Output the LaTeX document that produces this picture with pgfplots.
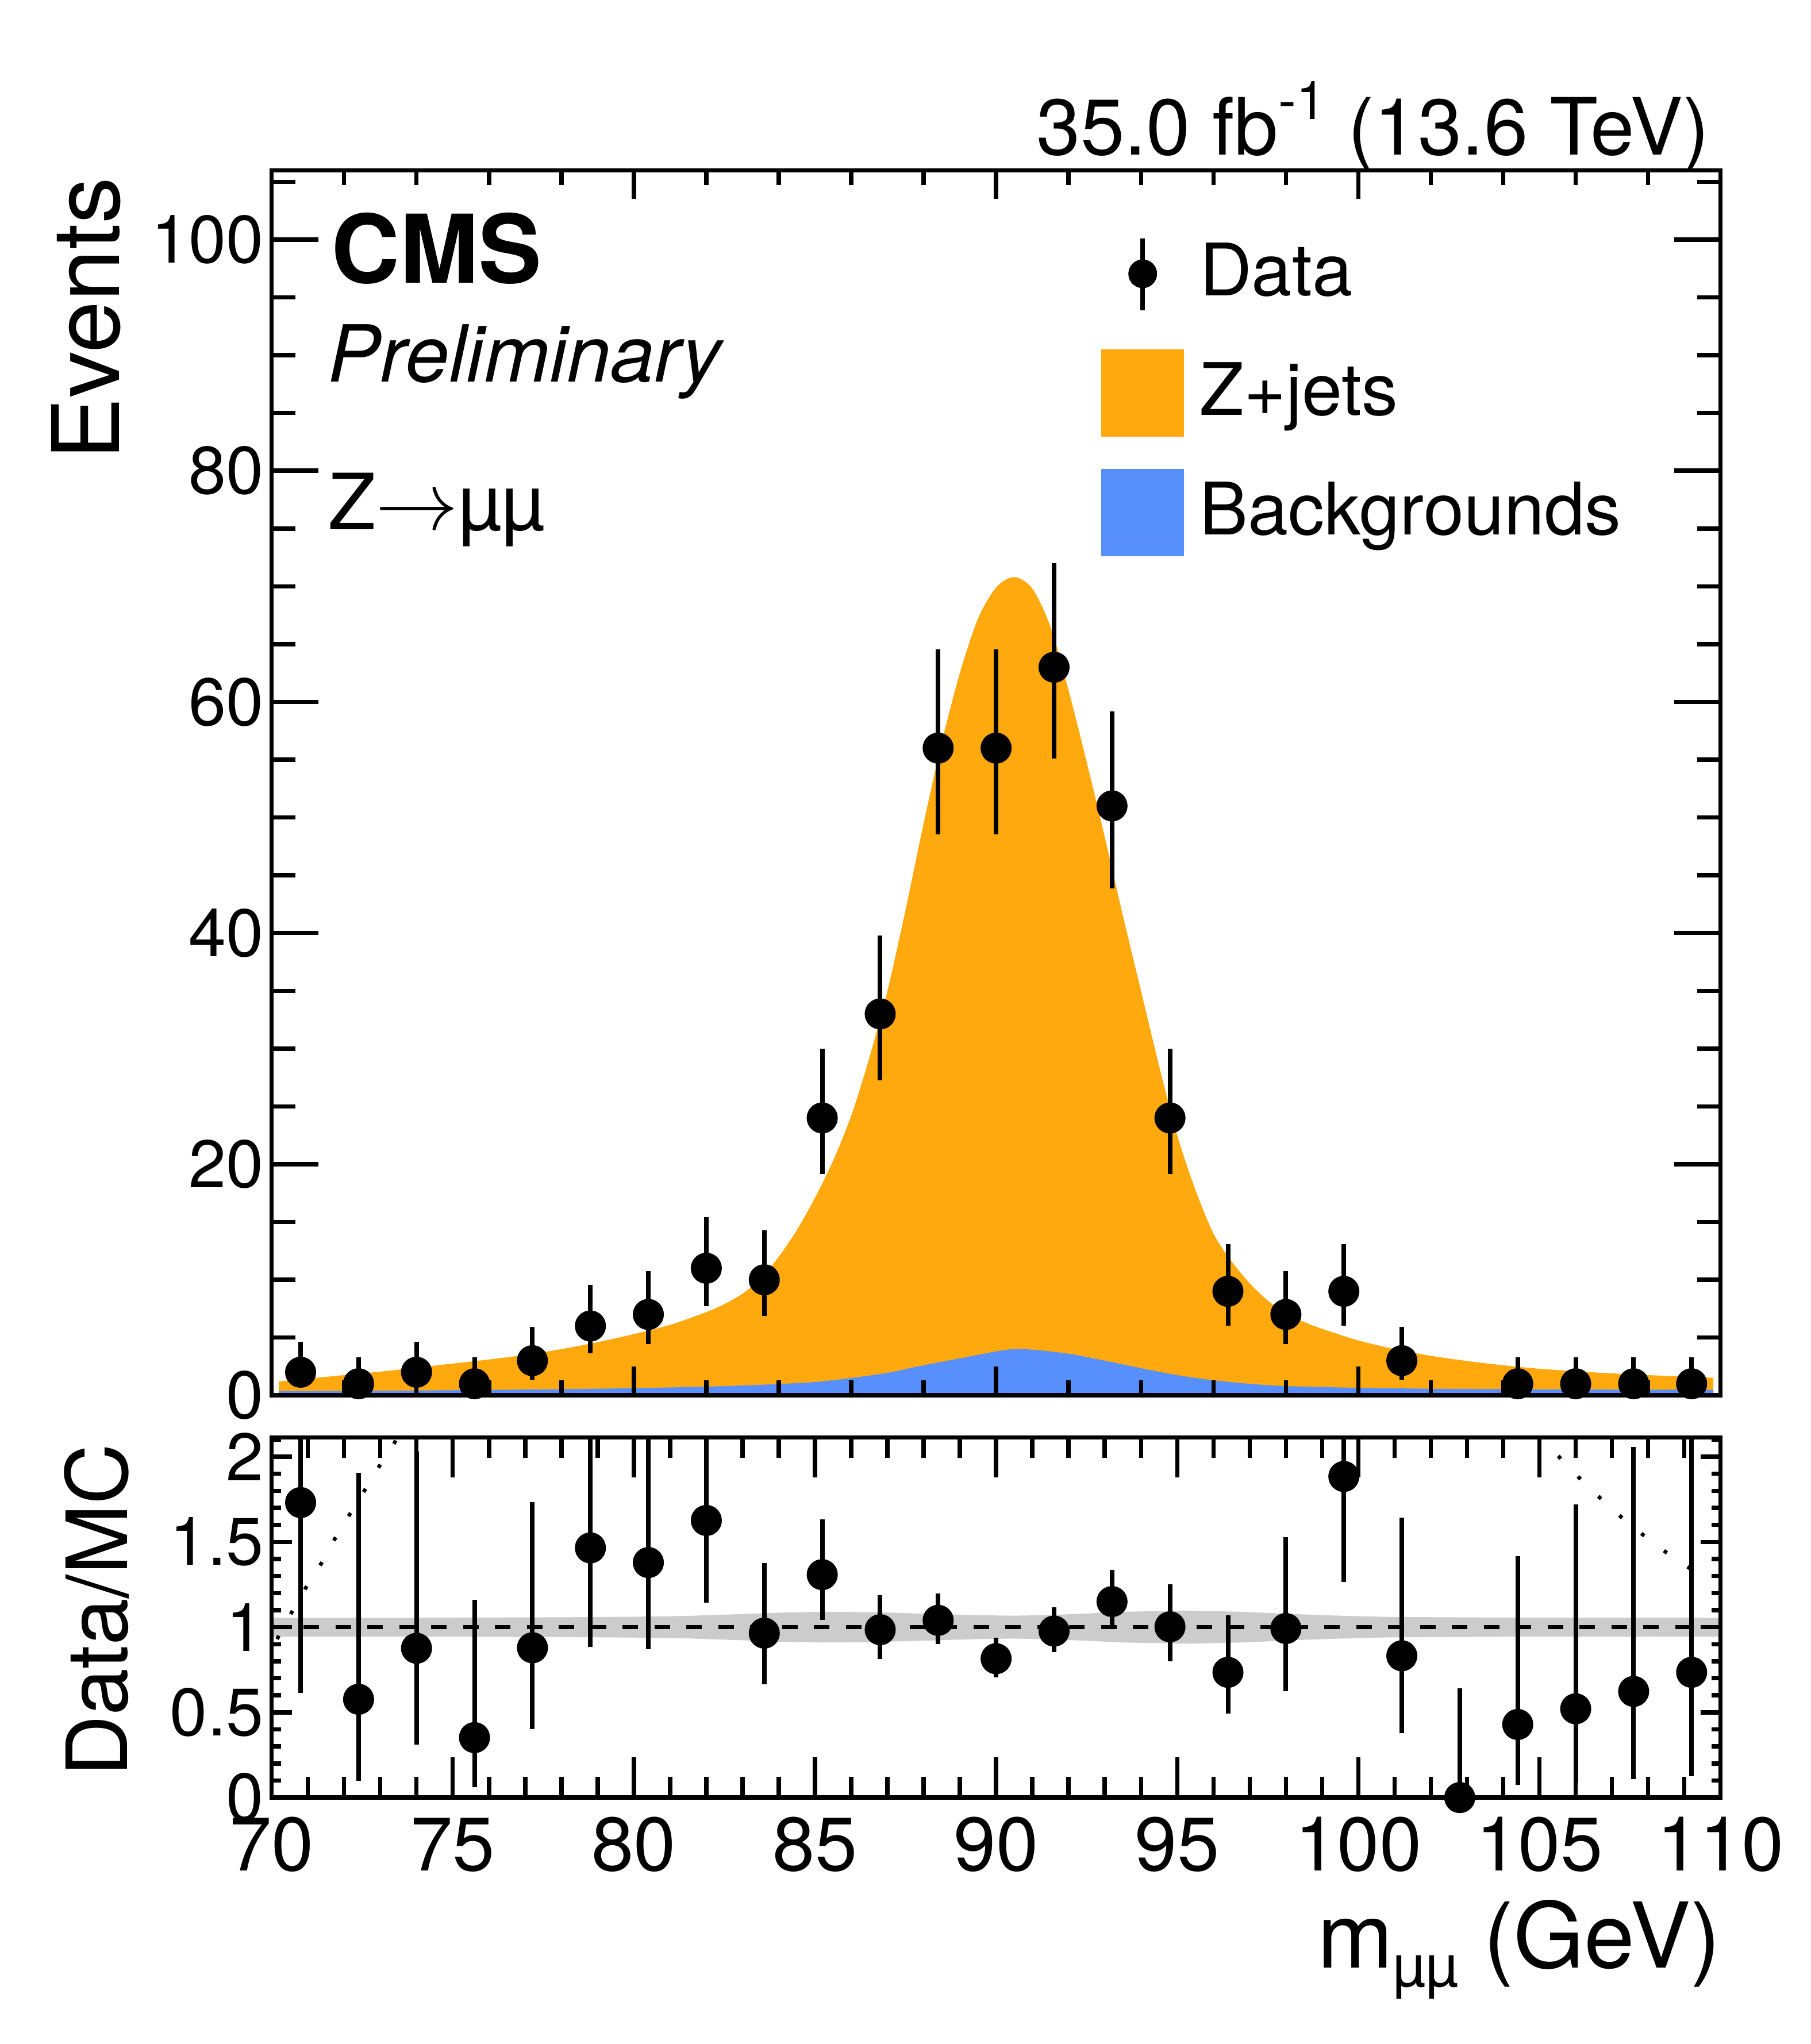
\documentclass[border=0pt]{standalone}
\usepackage{pgfplots}
\pgfplotsset{compat=1.18}
\usepackage{fontspec}
\setmainfont{TeX Gyre Heros}
\definecolor{zorange}{RGB}{255,169,14}
\definecolor{bkgblue}{RGB}{87,144,252}
\definecolor{bandgray}{RGB}{204,204,204}

\pgfplotstableread{
x y em ep
70.8 2 1.292 2.638
72.4 1 0.827 2.300
74.0 2 1.292 2.638
75.6 1 0.827 2.300
77.2 3 1.633 2.918
78.8 6 2.380 3.580
80.4 7 2.580 3.770
82.0 11 3.270 4.420
83.6 10 3.110 4.270
85.2 24 4.870 5.970
86.8 33 5.720 6.810
88.4 56 7.470 8.530
90.0 56 7.470 8.530
91.6 63 7.920 8.980
93.2 51 7.120 8.190
94.8 24 4.870 5.970
96.4 9 2.950 4.110
98.0 7 2.580 3.770
99.6 9 2.950 4.110
101.2 3 1.633 2.918
104.4 1 0.827 2.300
106.0 1 0.827 2.300
107.6 1 0.827 2.300
109.2 1 0.827 2.300
}\datatab

\pgfplotstableread{
x r em ep
70.8 1.731 1.118 2.283
72.4 0.577 0.477 1.327
74.0 0.876 0.566 1.155
75.6 0.352 0.291 0.810
77.2 0.879 0.478 0.855
78.8 1.465 0.581 0.874
80.4 1.379 0.508 0.743
82.0 1.626 0.483 0.654
83.6 0.965 0.300 0.412
85.2 1.308 0.265 0.325
86.8 0.985 0.171 0.203
88.4 1.040 0.139 0.159
90.0 0.815 0.109 0.124
91.6 0.977 0.123 0.139
93.2 1.150 0.161 0.185
94.8 1.002 0.203 0.249
96.4 0.735 0.241 0.336
98.0 0.992 0.366 0.535
99.6 1.884 0.618 0.861
101.2 0.832 0.453 0.810
102.8 0.000 0.000 0.642
104.4 0.429 0.355 0.987
106.0 0.521 0.431 1.198
107.6 0.623 0.515 1.433
109.2 0.735 0.608 1.691
}\ratiotab

\pgfplotstableread{
x y
70.2 1.20
71 1.45
72 1.75
73 2.05
74 2.40
75 2.75
76 3.10
77 3.50
78 4.00
79 4.60
80 5.30
81 6.10
82 7.20
82.5 7.90
83 8.80
83.5 10.1
84 12.0
84.5 14.3
85 17.1
85.5 20.3
86 24.2
86.5 29.2
87 35.0
87.5 42.0
88 49.5
88.5 56.5
89 62.5
89.5 67.2
90 69.9
90.5 70.8
91 69.8
91.5 66.5
92 61.0
92.5 54.8
93 48.3
93.5 41.5
94 35.0
94.5 28.5
95 22.5
95.5 17.8
96 14.0
96.5 11.6
97 9.7
97.5 8.2
98 7.1
98.5 6.35
99 5.75
100 4.75
101 4.00
102 3.42
103 2.97
104 2.60
105 2.30
106 2.08
107 1.90
108 1.75
109 1.62
109.8 1.52
}\zjtab

\pgfplotstableread{
x y
70.2 0.36
72 0.38
74 0.42
76 0.47
78 0.53
80 0.62
82 0.75
83 0.85
84 0.98
85 1.15
86 1.50
87 1.95
88 2.60
89 3.20
90 3.80
90.5 4.00
91 3.95
92 3.60
93 3.00
94 2.35
95 1.75
96 1.30
97 1.00
98 0.80
100 0.65
102 0.57
104 0.53
106 0.50
108 0.49
109.8 0.48
}\bkgtab

\begin{document}
\begin{tikzpicture}
\pgfplotsset{
  base/.style={scale only axis, width=252.11pt, xmin=70, xmax=110,
    anchor=south west,
    axis line style={line width=0.75pt},
    tick style={black, line width=0.75pt},
    tick align=inside,
    /pgf/number format/assume math mode=true},
  upper/.style={base, at={(47.26pt,112.88pt)}, height=213.19pt, ymin=0, ymax=106},
  lower/.style={base, at={(47.26pt,42.88pt)}, height=62.67pt, ymin=0, ymax=2.113},
  datastyle/.style={only marks, mark=*, mark size=2.5pt, black,
    error bars/y dir=both, error bars/y explicit, error bars/error mark=none,
    error bars/error bar style={line width=0.8pt, black}},
}

% ---------- upper panel: stacked areas + x ticks ----------
\begin{axis}[upper, axis on top,
  xtick={70,80,...,110}, xticklabels=\empty, minor xtick={70,72,...,110},
  ytick=\empty,
  major tick length=5pt, minor tick length=2.6pt]
\addplot[fill=zorange, draw=none, smooth] table[x=x,y=y] {\zjtab} \closedcycle;
\addplot[fill=bkgblue, draw=none, smooth] table[x=x,y=y] {\bkgtab} \closedcycle;
\end{axis}

% ---------- upper panel: y ticks, data, legend ----------
\begin{axis}[upper,
  xtick=\empty,
  ytick={0,20,...,100}, minor ytick={0,5,...,105},
  major tick length=8.1pt, minor tick length=4.1pt,
  yticklabel style={font=\fontsize{11.7}{12}\selectfont, inner sep=0pt, xshift=-1.2pt},
  legend cell align=left,
  legend style={at={(0.5727,0.9631)}, anchor=north west, draw=none, fill=none,
    inner sep=0pt, outer sep=0pt, row sep=0pt, column sep=2.7pt,
    font=\fontsize{12.6}{13}\selectfont, nodes={inner sep=0pt, outer sep=0pt}}]
\addplot[forget plot, datastyle] table[x=x, y=y, y error plus=ep, y error minus=em] {\datatab};
\addlegendimage{legend image code/.code={
  \path[draw=none, fill=none] (0pt,-10.65pt) rectangle (14.36pt,10.15pt);
  \draw[black, line width=0.8pt] (7.18pt,-6.35pt) -- (7.18pt,6.15pt);
  \fill[black, draw=none] (7.18pt,0pt) circle (2.5pt);}}
\addlegendentry{Data}
\addlegendimage{legend image code/.code={
  \path[draw=none, fill=none] (0pt,-10.65pt) rectangle (14.36pt,10.15pt);
  \fill[zorange, draw=none] (0pt,-7.6pt) rectangle (14.36pt,7.6pt);}}
\addlegendentry{Z+jets}
\addlegendimage{legend image code/.code={
  \path[draw=none, fill=none] (0pt,-10.65pt) rectangle (14.36pt,10.15pt);
  \fill[bkgblue, draw=none] (0pt,-7.6pt) rectangle (14.36pt,7.6pt);}}
\addlegendentry{Backgrounds}
\end{axis}

% ---------- lower panel: band, reference lines, x ticks ----------
\begin{axis}[lower,
  xtick={70,75,...,110}, minor xtick={70,71,...,110},
  ytick=\empty,
  major tick length=7pt, minor tick length=3.6pt,
  xticklabel style={font=\fontsize{13.2}{14}\selectfont, anchor=base, inner sep=0pt, yshift=-12.75pt}]
\addplot[fill=bandgray, draw=none] coordinates {
 (70,1.055) (74,1.055) (78,1.058) (80,1.061) (81.5,1.066) (83,1.077) (84,1.085)
 (85.2,1.090) (86.5,1.088) (88.4,1.077) (89.5,1.070) (90.5,1.067) (91.6,1.072)
 (92.5,1.080) (93.5,1.090) (95.3,1.097) (96.8,1.090) (98.2,1.077) (99.5,1.067)
 (100.8,1.060) (104,1.056) (110,1.055)
 (110,0.945) (104,0.944) (100.8,0.940) (99.5,0.933) (98.2,0.923) (96.8,0.910)
 (95.3,0.903) (93.5,0.910) (92.5,0.920) (91.6,0.928) (90.5,0.933) (89.5,0.930)
 (88.4,0.923) (86.5,0.912) (85.2,0.910) (84,0.915) (83,0.923) (81.5,0.934)
 (80,0.939) (78,0.942) (74,0.945) (70,0.945)};
\addplot[black, line width=0.75pt, dash pattern=on 2.7pt off 2.85pt] coordinates {(70,1) (110,1)};
\addplot[black, line width=0.65pt, dash pattern=on 0.65pt off 4.3pt] coordinates {
 (70.15,0.93) (70.55,1.085) (70.94,1.23) (71.36,1.37) (71.75,1.52) (72.15,1.66)
 (72.56,1.80) (72.96,1.94) (73.36,2.07) (73.6,2.16)};
\addplot[black, line width=0.65pt, dash pattern=on 0.65pt off 4.3pt] coordinates {
 (105.0,2.13) (105.35,2.045) (105.74,1.952) (106.15,1.865) (106.56,1.781)
 (106.95,1.703) (107.35,1.629) (107.76,1.558) (108.15,1.494) (108.54,1.432)
 (108.94,1.373) (109.35,1.319) (109.74,1.271)};
\end{axis}

% ---------- lower panel: y ticks, ratio points ----------
\begin{axis}[lower,
  xtick=\empty,
  ytick={0,0.5,1,1.5,2}, yticklabels={0,0.5,1,1.5,2},
  minor ytick={0,0.1,0.2,0.3,0.4,0.5,0.6,0.7,0.8,0.9,1.0,1.1,1.2,1.3,1.4,1.5,1.6,1.7,1.8,1.9,2.0,2.1},
  major tick length=3.5pt, minor tick length=1.6pt,
  yticklabel style={font=\fontsize{11.7}{12}\selectfont, inner sep=0pt, xshift=-1.2pt}]
\addplot[datastyle] table[x=x, y=r, y error plus=ep, y error minus=em] {\ratiotab};
\end{axis}

% ---------- texts ----------
\node[anchor=base east, inner sep=0pt, font=\fontsize{13.75}{15}\selectfont] at (297.6pt,328.7pt)
  {35.0 fb\raisebox{6.2pt}{\fontsize{9.3}{10}\selectfont -1} (13.6 TeV)};
\node[anchor=base west, inner sep=0pt, font=\fontsize{16.5}{18}\selectfont\bfseries] at (57.4pt,306.45pt) {CMS};
\node[anchor=base west, inner sep=0pt, font=\fontsize{13.7}{15}\selectfont\itshape] at (56.8pt,289.2pt) {Preliminary};
\node[anchor=base west, inner sep=0pt, font=\fontsize{13.5}{15}\selectfont] at (56.9pt,263.5pt) {Z$\rightarrow$µµ};
\node[rotate=90, anchor=base east, inner sep=0pt, font=\fontsize{16.2}{18}\selectfont] at (20.73pt,325.0pt) {Events};
\node[rotate=90, anchor=base east, inner sep=0pt, font=\fontsize{14.7}{16}\selectfont] at (22.1pt,104.7pt) {Data/MC};
\node[anchor=base east, inner sep=0pt, font=\fontsize{15.8}{17}\selectfont] at (299.6pt,13.2pt)
  {m\raisebox{-3.2pt}{\fontsize{10.2}{11}\selectfont µµ} (GeV)};

\pgfresetboundingbox
\path (0pt,0pt) rectangle (315.1pt,355.7pt);
\end{tikzpicture}
\end{document}
